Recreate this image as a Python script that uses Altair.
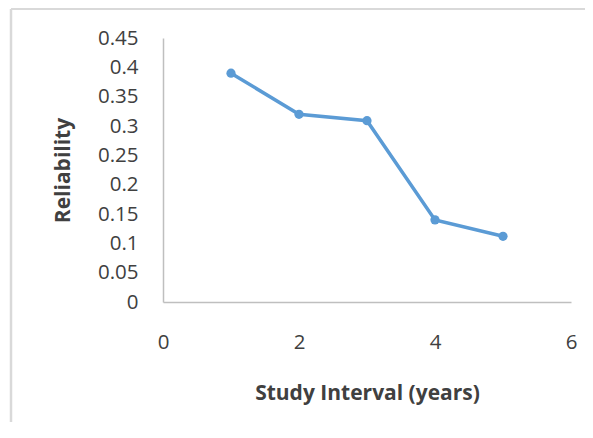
import altair as alt
import pandas as pd

# ── Values ───────────────────────────────────────────────────────
INTERVAL_YEARS = [1, 2, 3, 4, 5]
RELIABILITY = [0.39, 0.32, 0.309, 0.14, 0.112]
X_TICKS = [0, 2, 4, 6]
Y_TICKS = [0, 0.05, 0.1, 0.15, 0.2, 0.25, 0.3, 0.35, 0.4, 0.45]

# ── Style tokens (Excel-ish) ─────────────────────────────────────
LINE_BLUE = "#5B9BD5"
TEXT = "#404040"
AXIS_GREY = "#BFBFBF"
FRAME_GREY = "#D9D9D9"
FONT = "Open Sans"

df = pd.DataFrame({"interval": INTERVAL_YEARS, "reliability": RELIABILITY})

x_enc = alt.X(
    "interval:Q",
    scale=alt.Scale(domain=[0, 6], nice=False),
    axis=alt.Axis(
        values=X_TICKS, format="d", title="Study Interval (years)",
        grid=False, ticks=False, domainColor=AXIS_GREY, domainWidth=1.5,
        labelFlush=False, labelPadding=30, titlePadding=30,
    ),
)
y_enc = alt.Y(
    "reliability:Q",
    scale=alt.Scale(domain=[0, 0.45], nice=False),
    axis=alt.Axis(
        values=Y_TICKS, format=".2~f", title="Reliability",
        grid=False, ticks=False, domainColor=AXIS_GREY, domainWidth=1.5,
        labelFlush=False, labelPadding=25, titlePadding=24,
    ),
)

line = (
    alt.Chart(df)
    .mark_line(
        color=LINE_BLUE, strokeWidth=3.5,
        point=alt.OverlayMarkDef(filled=True, size=85, color=LINE_BLUE),
    )
    .encode(x=x_enc, y=y_enc)
)

# light grey frame of the original figure (top + left edge only visible)
frame_src = pd.DataFrame({"k": [0]})
frame_top = alt.Chart(frame_src).mark_rule(color=FRAME_GREY, strokeWidth=2).encode(
    x=alt.value(-152), x2=alt.value(440), y=alt.value(-29)
)
frame_left = alt.Chart(frame_src).mark_rule(color=FRAME_GREY, strokeWidth=2.5).encode(
    x=alt.value(-152), y=alt.value(-29), y2=alt.value(420)
)

chart = (
    alt.layer(frame_top, frame_left, line)
    .properties(
        width=408,
        height=264,
        autosize=alt.AutoSizeParams(type="none"),
        padding={"left": 155, "top": 30, "right": 14, "bottom": 120},
    )
    .configure_view(stroke=None)
    .configure_axis(
        labelFont=FONT, labelFontSize=20.5, labelColor=TEXT,
        titleFont=FONT, titleFontSize=21, titleColor=TEXT, titleFontWeight="bold",
    )
)

chart.save("out.html", embed_options={"renderer": "svg", "actions": False})
